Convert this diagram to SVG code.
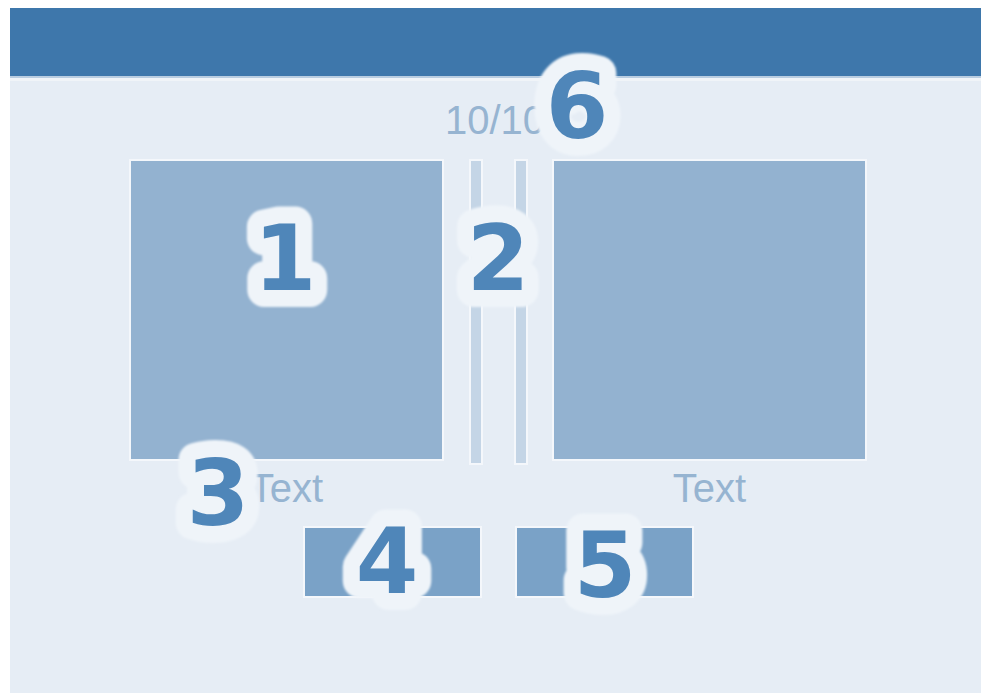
<svg xmlns="http://www.w3.org/2000/svg" width="981" height="693" viewBox="0 0 981 693">
  <style>
    .panel { fill: #93b2d0; stroke: #f4f7fb; stroke-width: 2; }
    .bar { fill: #c4d5e6; stroke: #f4f7fb; stroke-width: 2; }
    .btn { fill: #7aa2c7; stroke: #f4f7fb; stroke-width: 2; }
    .lbl { font-family: "Liberation Sans", Arial, sans-serif; font-size: 40px; fill: #96b4d1; }
    .halo { font-family: "DejaVu Sans", Verdana, sans-serif; font-weight: bold; font-size: 90px; text-anchor: middle; fill: #eff4f9; stroke: #eff4f9; stroke-width: 34; stroke-linejoin: round; }
    .num { font-family: "DejaVu Sans", Verdana, sans-serif; font-weight: bold; font-size: 90px; text-anchor: middle; fill: #4f86b9; }
  </style>
  <defs>
    <filter id="soft" x="-40%" y="-40%" width="180%" height="180%">
      <feGaussianBlur stdDeviation="1.2"/>
    </filter>
  </defs>

  <rect x="0" y="0" width="981" height="693" fill="#ffffff"/>
  <g id="background">
    <rect x="10" y="76" width="971" height="617" fill="#e6edf5"/>
    <rect x="10" y="8" width="971" height="68" fill="#3e77ab"/>
    <rect x="10" y="76" width="971" height="2" fill="#b9cde1"/>
    <rect x="10" y="78" width="971" height="3" fill="#f0f4f8"/>
  </g>

  <g id="counter">
    <text class="lbl" x="445" y="134">10/10</text>
  </g>

  <g id="left-panel">
    <rect class="panel" x="130" y="160" width="313" height="300"/>
    <text class="lbl" x="286.5" y="502" text-anchor="middle">Text</text>
  </g>

  <g id="divider">
    <rect class="bar" x="470" y="160" width="12" height="304"/>
    <rect class="bar" x="515" y="160" width="12" height="304"/>
  </g>

  <g id="right-panel">
    <rect class="panel" x="553" y="160" width="313" height="300"/>
    <text class="lbl" x="709.5" y="502" text-anchor="middle">Text</text>
  </g>

  <g id="button-left">
    <rect class="btn" x="304" y="527" width="177" height="70"/>
  </g>

  <g id="button-right">
    <rect class="btn" x="516" y="527" width="177" height="70"/>
  </g>

  <g id="connectors"/>

  <g id="badge-1">
    <text class="halo" x="285" y="290" filter="url(#soft)">1</text>
    <text class="num" x="285" y="290">1</text>
  </g>
  <g id="badge-2">
    <text class="halo" x="498" y="290" filter="url(#soft)">2</text>
    <text class="num" x="498" y="290">2</text>
  </g>
  <g id="badge-3">
    <text class="halo" x="218" y="525" filter="url(#soft)">3</text>
    <text class="num" x="218" y="525">3</text>
  </g>
  <g id="badge-4">
    <text class="halo" x="387" y="593" filter="url(#soft)">4</text>
    <text class="num" x="387" y="593">4</text>
  </g>
  <g id="badge-5">
    <text class="halo" x="605" y="597" filter="url(#soft)">5</text>
    <text class="num" x="605" y="597">5</text>
  </g>
  <g id="badge-6">
    <text class="halo" x="577" y="138" filter="url(#soft)">6</text>
    <text class="num" x="577" y="138">6</text>
  </g>
</svg>
